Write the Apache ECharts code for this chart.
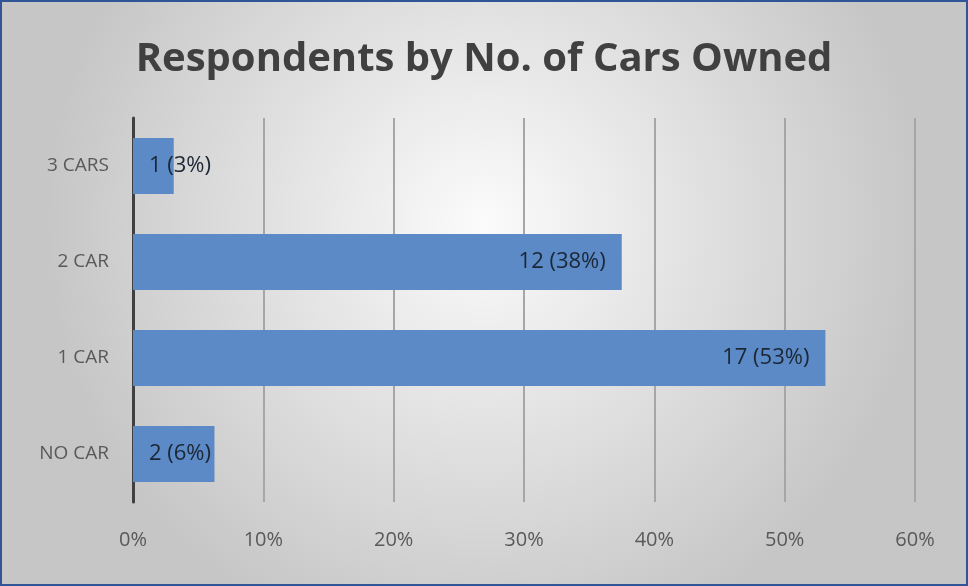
<!DOCTYPE html>
<html><head><meta charset="utf-8">
<script src="https://cdn.jsdelivr.net/npm/echarts@6/dist/echarts.min.js"></script>
<style>html,body{margin:0;padding:0;}#c{width:968px;height:586px;}</style>
</head><body><div id="c"></div>
<script>
const categories = ['NO CAR', '1 CAR', '2 CAR', '3 CARS'];
const counts = [2, 17, 12, 1];
const percentLabels = ['6%', '53%', '38%', '3%'];
const total = 32;
const xTicks = [0, 10, 20, 30, 40, 50, 60];

const chart = echarts.init(document.getElementById('c'));
const data = counts.map((c, i) => ({
  value: c / total * 100,
  label: { position: (c / total * 100) < 20 ? 'insideLeft' : 'insideRight', distance: 16 }
}));
chart.setOption({
  backgroundColor: {
    type: 'radial', x: 0.5, y: 0.38, r: 0.75,
    colorStops: [{ offset: 0, color: '#fbfbfb' }, { offset: 1, color: '#c6c6c6' }]
  },
  title: {
    text: 'Respondents by No. of Cars Owned', left: 'center', top: 35,
    textStyle: { fontFamily: 'Open Sans', fontWeight: 'bold', fontSize: 40, color: '#404040' }
  },
  graphic: [{ type: 'rect', shape: { x: 1, y: 1, width: 966, height: 584 }, style: { fill: 'none', stroke: '#2f5597', lineWidth: 2 }, silent: true }],
  grid: { left: 133, right: 53, top: 118, bottom: 84 },
  xAxis: {
    type: 'value', min: 0, max: 60, interval: 10,
    axisLine: { show: false }, axisTick: { show: false },
    splitLine: { lineStyle: { color: '#a6a6a6', width: 2 } },
    axisLabel: { formatter: v => xTicks.includes(v) ? v + '%' : '', fontFamily: 'Open Sans', fontSize: 20, color: '#595959', margin: 28 }
  },
  yAxis: {
    type: 'category', data: categories,
    axisLine: { lineStyle: { color: '#404040', width: 3 } }, axisTick: { show: false },
    axisLabel: { fontFamily: 'Open Sans', fontSize: 19, color: '#595959', margin: 24 }
  },
  series: [{
    type: 'bar', data: data, barWidth: 56,
    itemStyle: { color: '#5b8ac6' },
    label: {
      show: true, fontFamily: 'Open Sans', fontSize: 22, color: '#1c2635',
      formatter: p => counts[p.dataIndex] + ' (' + percentLabels[p.dataIndex] + ')'
    }
  }]
});
</script></body></html>
